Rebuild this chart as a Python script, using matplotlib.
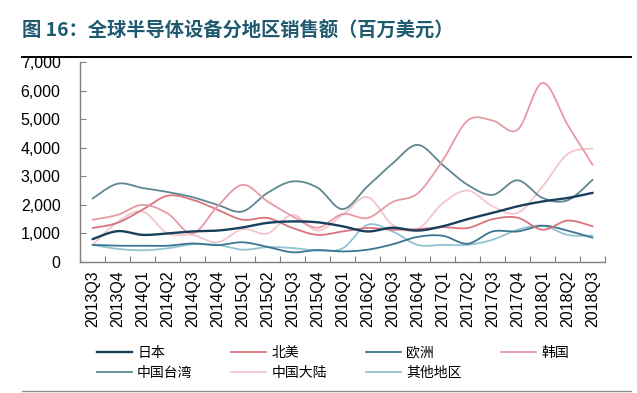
import matplotlib
matplotlib.use("Agg")
import matplotlib.pyplot as plt
import numpy as np
from matplotlib.lines import Line2D
from matplotlib.ticker import FuncFormatter, MultipleLocator

plt.rcParams["font.family"] = ["Liberation Sans", "Noto Sans CJK SC", "DejaVu Sans"]

quarters = [
    "2013Q3", "2013Q4",
    "2014Q1", "2014Q2", "2014Q3", "2014Q4",
    "2015Q1", "2015Q2", "2015Q3", "2015Q4",
    "2016Q1", "2016Q2", "2016Q3", "2016Q4",
    "2017Q1", "2017Q2", "2017Q3", "2017Q4",
    "2018Q1", "2018Q2", "2018Q3",
]

# sales, million USD
japan = [800, 1080, 950, 1000, 1070, 1100, 1210, 1370, 1420, 1390, 1250, 1070, 1200, 1100,
         1250, 1500, 1720, 1950, 2120, 2240, 2420]
north_america = [1190, 1370, 1830, 2320, 2180, 1830, 1480, 1540, 1190, 950, 1070, 1190, 1130, 1150,
                 1220, 1190, 1500, 1550, 1130, 1450, 1250]
europe = [600, 570, 570, 570, 650, 590, 690, 530, 340, 420, 370, 430, 620, 880,
          920, 640, 1070, 1070, 1270, 1100, 850]
korea = [1480, 1650, 2000, 1700, 1000, 1950, 2700, 2120, 1600, 1200, 1680, 1540, 2100, 2400,
         3550, 4950, 4950, 4630, 6270, 4800, 3400]
taiwan = [2220, 2740, 2590, 2450, 2270, 2000, 1770, 2420, 2820, 2600, 1850, 2650, 3450, 4100,
          3400, 2700, 2350, 2860, 2240, 2160, 2880]
china = [600, 1400, 1770, 1000, 950, 690, 1150, 1000, 1650, 1100, 1650, 2270, 1300, 1150,
         2050, 2500, 1950, 1720, 2650, 3780, 3970]
others = [600, 460, 410, 480, 620, 600, 430, 520, 490, 400, 480, 1300, 1070, 600,
          600, 600, 780, 1130, 1270, 950, 920]

series = [
    ("日本", japan, "#18405c", 1.7),
    ("中国台湾", taiwan, "#5f8793", 1.3),
    ("北美", north_america, "#d9747c", 1.3),
    ("中国大陆", china, "#f1c7cb", 1.3),
    ("欧洲", europe, "#3a7691", 1.3),
    ("其他地区", others, "#92c3d3", 1.3),
    ("韩国", korea, "#e79aa3", 1.3),
]
draw_order = ["中国大陆", "其他地区", "欧洲", "北美", "中国台湾", "韩国", "日本"]


def smooth(x, y, steps=20):
    # Excel-style smoothed line: cubic Bezier segments with Catmull-Rom controls
    x = np.asarray(x, float)
    y = np.asarray(y, float)
    px = np.concatenate([[x[0]], x, [x[-1]]])
    py = np.concatenate([[y[0]], y, [y[-1]]])
    t = np.linspace(0, 1, steps)
    xs, ys = [], []
    for i in range(1, len(px) - 2):
        p0, p1, p2, p3 = (np.array([px[j], py[j]]) for j in (i - 1, i, i + 1, i + 2))
        c1 = p1 + (p2 - p0) / 6
        c2 = p2 - (p3 - p1) / 6
        pts = (np.outer((1 - t) ** 3, p1) + np.outer(3 * (1 - t) ** 2 * t, c1)
               + np.outer(3 * (1 - t) * t ** 2, c2) + np.outer(t ** 3, p2))
        xs.extend(pts[:, 0])
        ys.extend(pts[:, 1])
    return np.array(xs), np.array(ys)


fig = plt.figure(figsize=(6.37, 3.93), dpi=100)
ax = fig.add_axes([0.1256, 0.3333, 0.8244, 0.509])

x = np.arange(len(quarters))
lookup = {name: (vals, color, lw) for name, vals, color, lw in series}
for name in draw_order:
    vals, color, lw = lookup[name]
    sx, sy = smooth(x, vals)
    ax.plot(sx, sy, color=color, lw=lw, solid_capstyle="round")

ax.set_xlim(-0.5, len(quarters) - 0.5)
ax.set_ylim(0, 7000)
ax.yaxis.set_major_locator(MultipleLocator(1000))
ax.yaxis.set_major_formatter(FuncFormatter(lambda v, p: f"{int(v):,}"))
ax.set_xticks(np.arange(len(quarters) + 1) - 0.5, minor=False)
ax.set_xticklabels([])
ax.set_xticks(x, minor=True)
ax.set_xticklabels(quarters, minor=True, rotation=90, fontsize=11.5)
ax.tick_params(axis="x", which="major", direction="in", length=4, color="#7f7f7f")
ax.tick_params(axis="x", which="minor", length=0, pad=6)
ax.tick_params(axis="y", direction="in", length=4, color="#7f7f7f", labelsize=11.5, pad=14)

for side in ("top", "right"):
    ax.spines[side].set_visible(False)
for side in ("left", "bottom"):
    ax.spines[side].set_color("#7f7f7f")
    ax.spines[side].set_linewidth(1.0)

handles = [Line2D([], [], color=c, lw=lw) for _, _, c, lw in series]
labels = [name for name, _, _, _ in series]
fig.legend(handles, labels, ncol=4, loc="upper left", bbox_to_anchor=(0.152, 0.12),
           frameon=False, fontsize=10, handlelength=2.5, handletextpad=0.4,
           columnspacing=2.8, labelspacing=0.45, borderpad=0, borderaxespad=0)

fig.text(0.035, 0.924, "图 16：全球半导体设备分地区销售额（百万美元）", fontsize=13.9,
         fontweight="bold", color="#1f5a70", va="center", ha="left",
         family=["Noto Sans CJK SC", "DejaVu Sans"])
fig.add_artist(Line2D([0.035, 0.99], [0.855, 0.855], transform=fig.transFigure,
                      color="black", lw=1.4))
fig.add_artist(Line2D([0.035, 0.99], [0.006, 0.006], transform=fig.transFigure,
                      color="#8c8c8c", lw=1.0))

fig.savefig("out.png", dpi=100)
